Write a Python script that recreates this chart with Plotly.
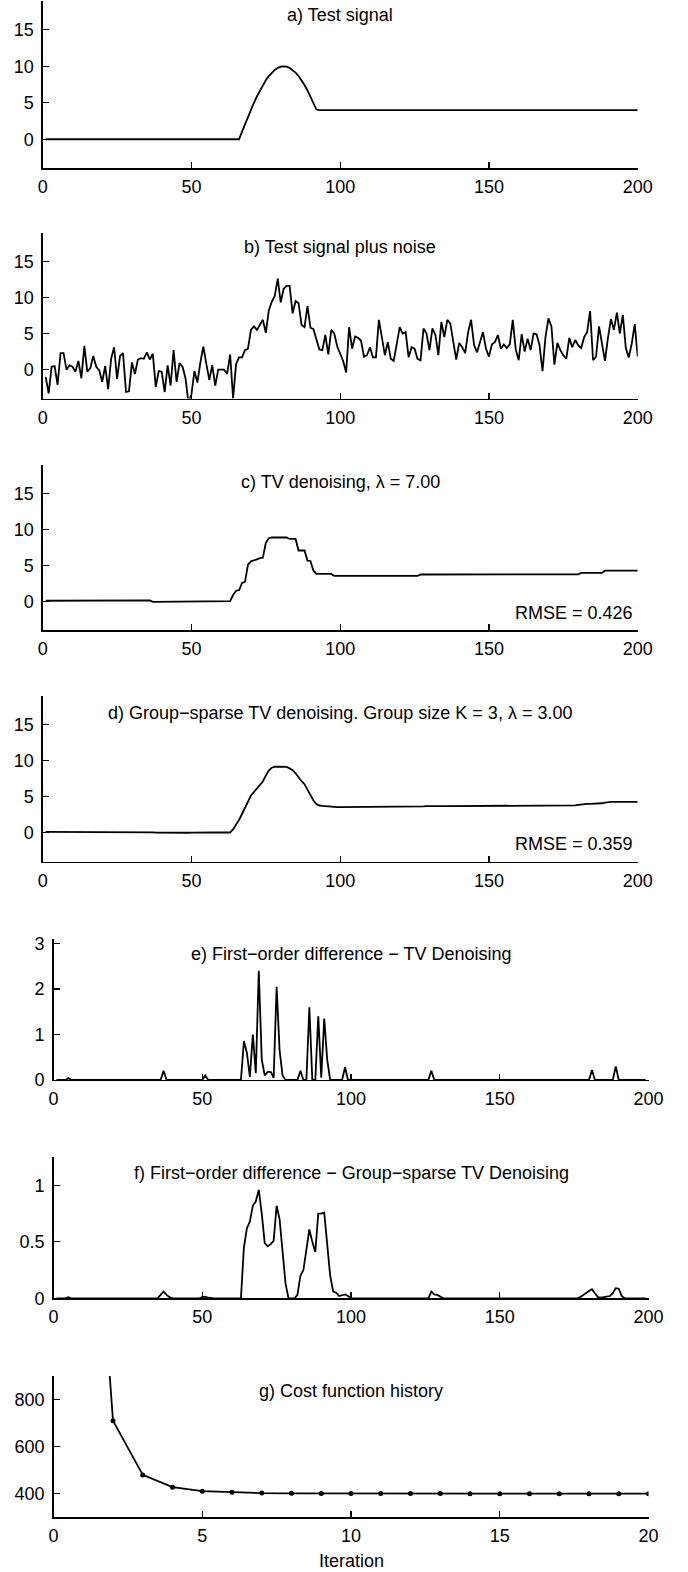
import plotly.graph_objects as go

# ---------------- data ----------------
n200 = list(range(1, 201))
n199 = list(range(1, 200))

test_signal = ([0.0] * 65 +
               [0.0, 1.05, 2.08, 3.09, 4.07, 5.0, 5.88, 6.69, 7.43, 8.09, 8.66, 9.14, 9.51, 9.78,
                9.95, 10.0, 9.95, 9.78, 9.51, 9.14, 8.66, 8.09, 7.43, 6.69, 5.88, 5.0, 4.07] +
               [4.0] * 108)

noisy_signal = [
    -1.0, -3.3, 0.4, 0.5, -2.1, 2.3, 2.3, 0.0, 0.6, 0.4,
    -0.3, 1.2, -1.2, 3.3, -0.3, 0.2, 1.9, 0.4, -0.1, -1.7,
    0.5, -2.7, 1.5, 3.1, -1.3, 1.9, 2.3, -3.1, -3.0, 1.0,
    -0.6, 1.4, 1.6, 1.5, 2.4, 1.4, 2.2, -2.4, -0.2, -0.3,
    -3.1, 0.6, -2.2, 2.7, -1.7, 0.9, 0.4, -1.2, -4.6, -3.4,
    -0.2, -1.8, 1.0, 3.2, 0.8, -1.4, 0.6, -2.2, 0.0, 0.0,
    0.0, -0.6, 2.1, -4.0, 0.8, 1.7, 1.7, 2.7, 2.9, 5.5,
    6.0, 5.5, 6.2, 6.9, 5.1, 8.2, 9.4, 10.2, 12.6, 9.3,
    11.2, 11.6, 11.6, 7.8, 9.5, 9.2, 6.2, 5.9, 8.8, 5.8,
    5.6, 4.3, 2.8, 2.7, 4.8, 2.1, 5.5, 5.0, 3.2, 2.2,
    1.2, -0.4, 5.9, 2.9, 4.6, 4.4, 4.0, 1.8, 2.0, 3.1,
    1.7, 1.7, 6.9, 4.5, 2.0, 3.8, 1.5, 1.2, 3.6, 5.9,
    5.0, 5.2, 1.7, 3.1, 2.9, 1.5, 1.3, 5.7, 5.0, 2.7,
    5.7, 4.8, 2.0, 6.6, 4.5, 6.9, 6.4, 3.6, 1.4, 3.7,
    3.1, 2.3, 5.2, 6.9, 3.4, 2.4, 3.8, 5.2, 2.9, 1.8,
    3.5, 3.8, 4.8, 2.9, 3.5, 3.0, 3.5, 6.9, 2.8, 1.3,
    4.9, 2.5, 4.3, 2.7, 5.0, 4.9, 3.4, -0.2, 4.5, 7.1,
    6.0, 0.7, 3.7, 2.7, 2.0, 1.5, 4.4, 3.1, 4.1, 3.4,
    3.0, 4.5, 5.2, 8.1, 1.3, 1.8, 6.0, 3.6, 1.2, 4.4,
    7.0, 5.5, 7.9, 5.0, 7.6, 3.0, 1.7, 3.6, 6.3, 1.8,
]

tv_denoised = ([0.10] * 4 + [0.14] * 32 + [-0.06] * 14 + [0.04] * 13 +
               [0.89, 1.49, 1.56, 2.56, 2.71, 5.11, 5.56, 5.66, 5.84, 6.02, 6.07, 8.12, 8.77, 8.87] +
               [8.87] * 5 + [8.67] * 3 + [7.07] * 3 +
               [5.67, 5.62, 4.27, 3.82] + [3.82] * 5 + [3.54] * 29 + [3.74] * 49 +
               [3.75] * 5 + [3.97] * 8 + [4.27] * 12)

gstv_denoised = ([0.14] * 4 + [0.15] * 31 + [0.12, 0.06, 0.03] + [0.02] * 11 + [0.03, 0.045] +
                 [0.05] * 12 +
                 [0.50, 1.12, 1.80, 2.62, 3.48, 4.44, 5.19, 5.68, 6.14, 6.62, 7.13, 7.95, 8.65, 9.05, 9.18] +
                 [9.18] * 3 +
                 [9.15, 8.95, 8.70, 8.28, 7.67, 7.17, 6.76, 6.01, 5.26, 4.50, 4.00, 3.80, 3.74, 3.69,
                  3.67, 3.64, 3.605, 3.585] +
                 [3.58] * 27 + [3.64, 3.675, 3.705, 3.72] + [3.72] * 46 +
                 [3.73, 3.76, 3.81, 3.875, 3.955, 4.005, 4.015, 4.02, 4.03, 4.045, 4.065, 4.11, 4.20,
                  4.285, 4.305] +
                 [4.305] * 9)

tv_diff = ([0.0] * 4 + [0.04] + [0.0] * 31 + [0.2] + [0.0] * 13 + [0.1] + [0.0] * 12 +
           [0.85, 0.6, 0.07, 1.0, 0.15, 2.4, 0.45, 0.1, 0.18, 0.18, 0.05, 2.05, 0.65, 0.1] +
           [0.0] * 5 + [0.2] + [0.0] * 2 + [1.6] + [0.0] * 2 + [1.4, 0.05, 1.35, 0.45] +
           [0.0] * 5 + [0.28] + [0.0] * 28 + [0.2] + [0.0] * 48 + [0.01] + [0.0] * 4 +
           [0.22] + [0.0] * 7 + [0.3] + [0.0] * 10)

gstv_diff = ([0.0] * 4 + [0.01] + [0.0] * 30 + [0.03, 0.06, 0.03, 0.01] + [0.0] * 10 +
             [0.01, 0.015, 0.005] + [0.0] * 11 +
             [0.45, 0.62, 0.68, 0.82, 0.86, 0.96, 0.75, 0.49, 0.46, 0.48, 0.51, 0.82, 0.7, 0.4, 0.13] +
             [0.0] * 3 +
             [0.03, 0.2, 0.25, 0.42, 0.61, 0.5, 0.41, 0.75, 0.75, 0.76, 0.5, 0.2, 0.06, 0.05, 0.02,
              0.03, 0.035, 0.02] +
             [0.0] * 27 + [0.06, 0.035, 0.03, 0.015] + [0.0] * 46 +
             [0.01, 0.03, 0.05, 0.065, 0.08, 0.05, 0.01, 0.005, 0.01, 0.015, 0.02, 0.045, 0.09,
              0.085, 0.02] +
             [0.0] * 8)

iterations = list(range(1, 21))
cost_history = [2450, 710, 480, 428, 411, 406, 403, 402, 401.5, 401, 401, 400.8, 400.6,
                400.5, 400.4, 400.3, 400.3, 400.2, 400.2, 400.2]

titles = ["a) Test signal",
          "b) Test signal plus noise",
          "c) TV denoising, \u03bb = 7.00",
          "d) Group\u2212sparse TV denoising. Group size K = 3, \u03bb = 3.00",
          "e) First\u2212order difference \u2212 TV Denoising",
          "f) First\u2212order difference \u2212 Group\u2212sparse TV Denoising",
          "g) Cost function history"]
rmse_labels = {2: ("RMSE = 0.426", -1.64), 3: ("RMSE = 0.359", -1.5)}

# ---------------- layout geometry (pixels) ----------------
W, H = 688, 1572
FONT = "Liberation Sans, Arial, Helvetica, sans-serif"
FS = 18

series = [
    (n200, test_signal), (n200, noisy_signal), (n200, tv_denoised), (n200, gstv_denoised),
    (n199, tv_diff), (n199, gstv_diff), (iterations, cost_history),
]
xpx = [(42.7, 637.7)] * 4 + [(53.5, 648.5)] * 3
ypx = [(0.7, 168.4), (232.5, 398.5), (464.5, 630.3), (696.0, 861.7),
       (939.0, 1080.0), (1156.7, 1298.3), (1376.0, 1517.3)]
yranges = [[-4, 19]] * 4 + [[0, 3.1], [0, 1.255], [300, 900]]
xranges = [[0, 200]] * 6 + [[0, 20]]
yticks = [[0, 5, 10, 15]] * 4 + [[0, 1, 2, 3], [0, 0.5, 1], [400, 600, 800]]
ytext = [["0", "5", "10", "15"]] * 4 + [["0", "1", "2", "3"], ["0", "0.5", "1"], ["400", "600", "800"]]
xticks = [[0, 50, 100, 150, 200]] * 6 + [[0, 5, 10, 15, 20]]
title_y = [17.0, 17.0, 16.6, 16.7, 2.76, 1.115, 835]

fig = go.Figure()
layout = dict(width=W, height=H,
              margin=dict(l=0, r=0, t=0, b=0, pad=0, autoexpand=False), autosize=False,
              paper_bgcolor="white", plot_bgcolor="white", showlegend=False,
              font=dict(family=FONT, size=FS, color="black"), annotations=[])

for i in range(7):
    k = "" if i == 0 else str(i + 1)
    xs, ys = series[i]
    mode = "lines+markers" if i == 6 else "lines"
    fig.add_trace(go.Scatter(x=xs, y=ys, mode=mode, xaxis="x" + k, yaxis="y" + k,
                             line=dict(color="black", width=1.8),
                             marker=dict(color="black", size=5), hoverinfo="skip"))
    axcommon = dict(showline=True, linecolor="black", linewidth=1.4, ticks="inside",
                    ticklen=6, tickwidth=1.1, tickcolor="black", showgrid=False, zeroline=False,
                    mirror=False, automargin=False,
                    tickfont=dict(family=FONT, size=FS, color="black"))
    layout["xaxis" + k] = dict(axcommon, domain=[xpx[i][0] / W, xpx[i][1] / W], range=xranges[i],
                               anchor="y" + k, tickvals=xticks[i],
                               ticktext=[str(v) for v in xticks[i]], ticklabelstandoff=2)
    layout["yaxis" + k] = dict(axcommon, domain=[1 - ypx[i][1] / H, 1 - ypx[i][0] / H],
                               range=yranges[i], anchor="x" + k, tickvals=yticks[i],
                               ticktext=ytext[i], ticklabelstandoff=4)
    layout["annotations"].append(dict(text=titles[i], xref="x" + k + " domain", x=0.5,
                                      yref="y" + k, y=title_y[i], xanchor="center",
                                      yanchor="middle", showarrow=False,
                                      font=dict(family=FONT, size=FS, color="black")))
    if i in rmse_labels:
        txt, yv = rmse_labels[i]
        layout["annotations"].append(dict(text=txt, xref="x" + k, x=199.2,
                                          yref="y" + k, y=yv, xanchor="right",
                                          yanchor="middle", showarrow=False,
                                          font=dict(family=FONT, size=FS, color="black")))

layout["annotations"].append(dict(text="Iteration", xref="x7 domain", x=0.5, yref="paper",
                                  y=1 - 1560.7 / H, xanchor="center", yanchor="middle",
                                  showarrow=False, font=dict(family=FONT, size=FS, color="black")))

fig.update_layout(**layout)

page_js = """
var s=document.createElement('style');
s.innerHTML='html,body{margin:0!important;padding:0!important;overflow:hidden!important;}';
document.head.appendChild(s);
"""
fig.write_html("out.html",
               config={"displayModeBar": False, "responsive": False, "staticPlot": True},
               post_script=page_js)
